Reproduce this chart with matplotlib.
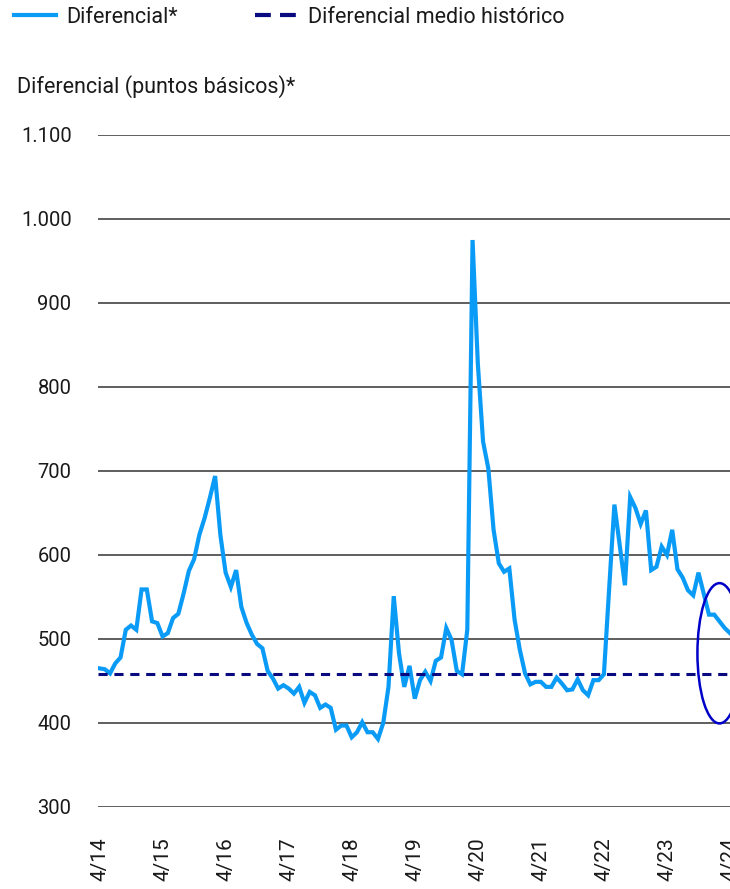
import numpy as np
import matplotlib
matplotlib.use("Agg")
import matplotlib.pyplot as plt
from matplotlib.patches import Ellipse
from matplotlib.lines import Line2D

plt.rcParams["font.family"] = ["Roboto", "DejaVu Sans"]

# monthly spread, April 2014 .. April 2024 (basis points)
spread = [
    465, 464, 459, 471, 478, 511, 516, 511, 559, 559, 521, 519,
    503, 507, 525, 530, 554, 581, 595, 624, 644, 668, 694, 624,
    579, 562, 582, 538, 519, 505, 494, 489, 462, 453, 441, 445,
    441, 435, 443, 424, 437, 433, 418, 422, 418, 392, 397, 397,
    383, 389, 401, 389, 389, 381, 400, 443, 551, 483, 443, 468,
    429, 451, 461, 450, 474, 478, 513, 499, 462, 458, 511, 975,
    828, 735, 703, 630, 590, 580, 584, 523, 487, 459, 446, 449,
    449, 443, 443, 454, 447, 439, 440, 452, 439, 433, 451, 451,
    458, 560, 660, 612, 564, 669, 656, 637, 653, 582, 586, 610,
    600, 630, 583, 573, 558, 552, 579, 554, 529, 529, 521, 513,
    507,
]
mean_spread = 458
tick_labels = ["4/14", "4/15", "4/16", "4/17", "4/18", "4/19",
               "4/20", "4/21", "4/22", "4/23", "4/24"]
y_ticks = [300, 400, 500, 600, 700, 800, 900, 1000, 1100]
y_labels = ["300", "400", "500", "600", "700", "800", "900", "1.000", "1.100"]

line_color = "#0A9BF7"
mean_color = "#0A0A80"
text_color = "#1a1a1a"

fig = plt.figure(figsize=(7.30, 8.89), dpi=100)
ax = fig.add_axes([98 / 730, 82 / 889, 632 / 730, 672 / 889])

x = np.arange(len(spread))
ax.plot(x, spread, color=line_color, lw=3.0, solid_joinstyle="miter", zorder=3)
ax.axhline(mean_spread, color=mean_color, lw=2.2, dashes=(3.0, 2.2), zorder=4)

# highlight of the latest readings
ell = Ellipse((118.0, 483), 8.4, 167, fill=False, edgecolor="#0000C8",
              lw=1.8, zorder=5, clip_on=False)
ax.add_patch(ell)

ax.set_xlim(-0.29, 119.87)
ax.set_ylim(300, 1100)
ax.set_yticks(y_ticks)
ax.set_yticklabels(y_labels)
ax.set_xticks(np.arange(0, 121, 12))
ax.set_xticklabels(tick_labels, rotation=90, va="top", ha="center")
ax.grid(axis="y", color="#333333", lw=1.1)
ax.set_axisbelow(True)
for s in ax.spines.values():
    s.set_visible(False)
ax.tick_params(axis="y", length=0, pad=19, labelsize=14.5, colors=text_color)
ax.tick_params(axis="x", length=0, pad=22, labelsize=15, colors=text_color)

fig.text(17 / 730, 1 - 87 / 889, "Diferencial (puntos básicos)*", fontsize=15.5,
         va="center", ha="left", color=text_color)

handles = [
    Line2D([], [], color=line_color, lw=3.0),
    Line2D([], [], color=mean_color, lw=3.0, dashes=(3.8, 2.2)),
]
fig.legend(handles, ["Diferencial*", "Diferencial medio histórico"],
           loc="upper left", bbox_to_anchor=(-0.008, 1.014), ncol=2, frameon=False,
           fontsize=15.5, handlelength=1.95, handletextpad=0.5, columnspacing=3.6,
           labelcolor=text_color)

fig.savefig("out.png", dpi=100)
